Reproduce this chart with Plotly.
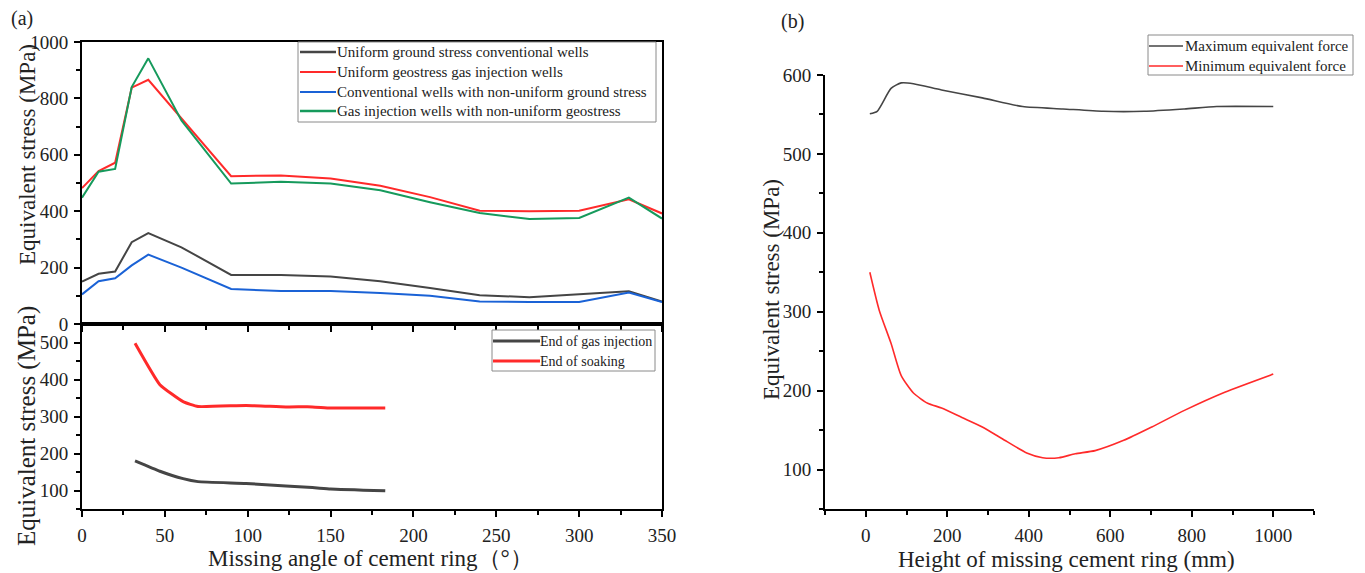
import plotly.graph_objects as go

W, H = 1365, 573

# ---- Panel (a) top: missing angle vs equivalent stress ----
angle_top = [0, 10, 20, 30, 40, 60, 90, 120, 150, 180, 210, 240, 270, 300, 330, 350]
uniform_conv = [150, 178, 186, 290, 322, 272, 174, 174, 168, 152, 128, 102, 95, 106, 116, 80]
uniform_gas = [482, 542, 572, 838, 866, 730, 524, 527, 516, 490, 450, 402, 400, 402, 442, 392]
nonuni_conv = [105, 152, 162, 208, 246, 200, 124, 117, 117, 110, 100, 80, 78, 78, 112, 78]
nonuni_gas = [448, 540, 550, 840, 942, 722, 498, 504, 498, 474, 432, 394, 372, 376, 448, 374]
top_names = ["Uniform ground stress conventional wells",
             "Uniform geostress gas injection wells",
             "Conventional wells with non-uniform ground stress",
             "Gas injection wells with non-uniform geostress"]

# ---- Panel (a) bottom ----
angle_bot = [32, 47, 61, 70, 99, 123, 139, 150, 183]
end_gas_inj = [180, 152, 132, 124, 119, 112, 108, 104, 99]
end_soaking = [498, 386, 340, 327, 330, 326, 326, 323, 323]
bot_names = ["End of gas injection", "End of soaking"]

# ---- Panel (b): height of missing cement ring ----
height_max = [10, 28, 62, 87, 117, 186, 286, 385, 484, 583, 683, 782, 861, 1000]
max_force = [551, 554, 583, 590, 589, 581, 571, 560, 557, 554, 554, 557, 560, 560]
height_min = [10, 33, 62, 87, 117, 152, 186, 236, 286, 335, 395, 434, 474, 514, 563, 633, 702, 782, 881, 1000]
min_force = [350, 302, 260, 219, 197, 184, 178, 166, 154, 139, 121, 115, 115, 120, 124, 137, 154, 175, 198, 221]
right_names = ["Maximum equivalent force", "Minimum equivalent force"]

BLACK = "#454545"
RED = "#ff2a2a"
BLUE = "#1a62d6"
GREEN = "#169a5c"
FONT = "Liberation Serif"
TXT = "#222"


def px_x(p):
    return p / W


def px_y(p):
    return 1 - p / H


fig = go.Figure()

top_series = [(uniform_conv, BLACK), (uniform_gas, RED), (nonuni_conv, BLUE), (nonuni_gas, GREEN)]
for name, (ys, col) in zip(top_names, top_series):
    fig.add_trace(go.Scatter(x=angle_top, y=ys, mode="lines", name=name,
                             line=dict(color=col, width=2), xaxis="x", yaxis="y"))

for name, ys, col in [(bot_names[0], end_gas_inj, BLACK), (bot_names[1], end_soaking, RED)]:
    fig.add_trace(go.Scatter(x=angle_bot, y=ys, mode="lines", name=name,
                             line=dict(color=col, width=3, shape="spline", smoothing=0.4),
                             xaxis="x2", yaxis="y2"))

fig.add_trace(go.Scatter(x=height_max, y=max_force, mode="lines", name=right_names[0],
                         line=dict(color=BLACK, width=1.6, shape="spline", smoothing=0.6),
                         xaxis="x3", yaxis="y3"))
fig.add_trace(go.Scatter(x=height_min, y=min_force, mode="lines", name=right_names[1],
                         line=dict(color=RED, width=1.6, shape="spline", smoothing=0.6),
                         xaxis="x3", yaxis="y3"))

tickfont = dict(family=FONT, size=19, color=TXT)
axis_common = dict(showline=True, linecolor="black", linewidth=2, showgrid=False,
                   zeroline=False, ticks="outside", ticklen=6, tickwidth=1.5,
                   tickcolor="black", tickfont=tickfont, automargin=False, ticklabelstandoff=2)

left_dom = [px_x(82), px_x(662)]
fig.update_layout(
    width=W, height=H, autosize=False,
    margin=dict(l=0, r=0, t=0, b=0, pad=0),
    paper_bgcolor="white", plot_bgcolor="white",
    font=dict(family=FONT, color=TXT),
    showlegend=False,
    xaxis=dict(axis_common, domain=left_dom, range=[0, 350], dtick=50, tick0=0,
               showticklabels=False, mirror=True, anchor="y",
               minor=dict(ticks="outside", ticklen=4, dtick=25, tickcolor="black")),
    yaxis=dict(axis_common, domain=[px_y(324), px_y(42)], range=[0, 1000], dtick=200,
               mirror=True, anchor="x",
               minor=dict(ticks="outside", ticklen=4, dtick=100, tickcolor="black")),
    xaxis2=dict(axis_common, domain=left_dom, range=[0, 350], dtick=50, tick0=0,
                mirror=True, anchor="y2",
                minor=dict(ticks="outside", ticklen=4, dtick=25, tickcolor="black")),
    yaxis2=dict(axis_common, domain=[px_y(509), px_y(324)], range=[50, 550], dtick=100,
                tick0=0, mirror=True, anchor="x2",
                minor=dict(ticks="outside", ticklen=4, dtick=50, tickcolor="black")),
    xaxis3=dict(axis_common, domain=[px_x(825), px_x(1314)], range=[-100, 1100], dtick=200,
                tick0=0, anchor="y3",
                minor=dict(ticks="outside", ticklen=4, dtick=100, tickcolor="black")),
    yaxis3=dict(axis_common, domain=[px_y(509), px_y(75)], range=[50, 600], dtick=100,
                tick0=0, anchor="x3",
                minor=dict(ticks="outside", ticklen=4, dtick=50, tickcolor="black")),
)

shapes = []
annotations = []


def add_legend(box, rows, line_x0, line_x1, text_x, names, colors, widths, size):
    x0, y0, x1, y1 = box
    shapes.append(dict(type="rect", xref="paper", yref="paper",
                       x0=px_x(x0), x1=px_x(x1), y0=px_y(y1), y1=px_y(y0),
                       line=dict(color="#8a8a8a", width=1), fillcolor="white", layer="above"))
    for ry, nm, col, w in zip(rows, names, colors, widths):
        shapes.append(dict(type="line", xref="paper", yref="paper",
                           x0=px_x(line_x0), x1=px_x(line_x1), y0=px_y(ry), y1=px_y(ry),
                           line=dict(color=col, width=w), layer="above"))
        annotations.append(dict(text=nm, x=px_x(text_x), y=px_y(ry), xanchor="left",
                                yanchor="middle", font=dict(family=FONT, size=size, color=TXT)))


add_legend((298, 42, 656, 122), [52, 72, 92, 111], 300, 336, 335, top_names,
           [BLACK, RED, BLUE, GREEN], [2.5, 2, 2, 2.5], 15)
add_legend((492, 330, 655, 371), [341, 361], 493, 540, 538, bot_names,
           [BLACK, RED], [3, 3], 14)
add_legend((1148, 35, 1353, 75), [46, 66], 1149, 1183, 1183, right_names,
           [BLACK, RED], [1.6, 1.6], 15)

title_font = dict(family=FONT, size=23, color=TXT)
annotations += [
    dict(text="(a)", x=px_x(22), y=px_y(18), font=dict(family=FONT, size=20, color=TXT)),
    dict(text="(b)", x=px_x(792), y=px_y(22), font=dict(family=FONT, size=20, color=TXT)),
    dict(text="Equivalent stress (MPa)", x=px_x(27), y=px_y(155), textangle=-90, font=title_font),
    dict(text="Equivalent stress (MPa)", x=px_x(27), y=px_y(426), textangle=-90,
         font=dict(family=FONT, size=25, color=TXT)),
    dict(text="Equivalent stress (MPa)", x=px_x(771), y=px_y(290), textangle=-90, font=title_font),
    dict(text="Missing angle of cement ring（°）", x=px_x(370), y=px_y(558), font=title_font),
    dict(text="Height of missing cement ring (mm)", x=px_x(1066), y=px_y(559), font=title_font),
]
for a in annotations:
    a.setdefault("xanchor", "center")
    a.setdefault("yanchor", "middle")
    a.update(xref="paper", yref="paper", showarrow=False)

fig.update_layout(shapes=shapes, annotations=annotations)

fig.write_html("out.html", config={"displayModeBar": False},
               post_script="document.body.style.margin='0px';document.body.style.overflow='hidden';")
